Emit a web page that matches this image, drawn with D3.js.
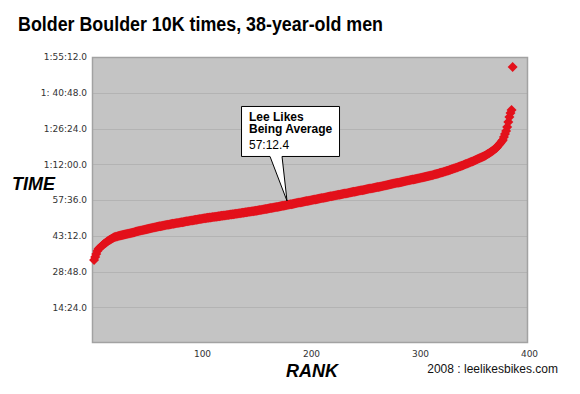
<!DOCTYPE html>
<html>
<head>
<meta charset="utf-8">
<script src="https://cdn.jsdelivr.net/npm/d3@7"></script>
<style>
  body { margin: 0; background: #fff; }
  svg { display: block; }
</style>
</head>
<body>
<div id="chart"></div>
<script>
// finish times in seconds, listed in rank order (rank = index + 1)
const finishTimes = [
  2006, 2078, 2151, 2223, 2272, 2296, 2320, 2345, 2369, 2393,
  2412, 2431, 2450, 2470, 2489, 2504, 2518, 2533, 2547, 2562,
  2569, 2576, 2583, 2590, 2596, 2603, 2610, 2616, 2622, 2628,
  2634, 2640, 2646, 2652, 2658, 2665, 2672, 2679, 2686, 2693,
  2700, 2707, 2713, 2719, 2725, 2731, 2737, 2743, 2749, 2755,
  2761, 2767, 2773, 2779, 2785, 2791, 2797, 2803, 2808, 2814,
  2819, 2824, 2830, 2835, 2840, 2845, 2850, 2855, 2860, 2866,
  2871, 2876, 2881, 2885, 2890, 2894, 2899, 2903, 2908, 2912,
  2917, 2921, 2926, 2930, 2935, 2940, 2944, 2949, 2953, 2958,
  2962, 2967, 2971, 2976, 2980, 2985, 2989, 2994, 2998, 3003,
  3007, 3012, 3016, 3021, 3025, 3028, 3032, 3036, 3040, 3043,
  3047, 3051, 3054, 3058, 3062, 3066, 3069, 3073, 3077, 3081,
  3084, 3088, 3092, 3096, 3099, 3103, 3107, 3111, 3114, 3118,
  3122, 3126, 3130, 3134, 3138, 3142, 3146, 3150, 3154, 3158,
  3162, 3166, 3170, 3174, 3178, 3182, 3186, 3190, 3194, 3198,
  3203, 3208, 3212, 3217, 3222, 3227, 3232, 3236, 3241, 3246,
  3251, 3256, 3260, 3265, 3270, 3275, 3280, 3284, 3289, 3294,
  3299, 3304, 3310, 3315, 3320, 3325, 3330, 3336, 3341, 3346,
  3351, 3356, 3362, 3367, 3372, 3377, 3382, 3388, 3393, 3398,
  3403, 3408, 3414, 3419, 3424, 3429, 3434, 3440, 3445, 3450,
  3455, 3460, 3466, 3471, 3476, 3481, 3486, 3492, 3497, 3502,
  3507, 3512, 3518, 3523, 3528, 3533, 3538, 3544, 3549, 3554,
  3559, 3564, 3570, 3575, 3580, 3585, 3590, 3596, 3601, 3606,
  3611, 3616, 3622, 3627, 3632, 3637, 3642, 3648, 3653, 3658,
  3663, 3668, 3674, 3679, 3684, 3689, 3694, 3700, 3705, 3710,
  3715, 3720, 3726, 3731, 3736, 3741, 3746, 3752, 3757, 3762,
  3768, 3773, 3779, 3785, 3790, 3796, 3802, 3807, 3813, 3819,
  3824, 3830, 3836, 3841, 3847, 3853, 3858, 3864, 3870, 3875,
  3881, 3887, 3892, 3898, 3904, 3909, 3915, 3921, 3926, 3932,
  3938, 3943, 3949, 3954, 3960, 3966, 3971, 3977, 3983, 3988,
  3994, 4000, 4006, 4012, 4018, 4024, 4030, 4036, 4042, 4048,
  4055, 4063, 4070, 4077, 4085, 4092, 4099, 4106, 4114, 4121,
  4129, 4138, 4146, 4155, 4163, 4171, 4180, 4188, 4197, 4205,
  4215, 4224, 4234, 4244, 4254, 4263, 4273, 4283, 4292, 4302,
  4313, 4324, 4335, 4346, 4356, 4367, 4378, 4389, 4400, 4411,
  4423, 4435, 4447, 4459, 4471, 4483, 4496, 4508, 4520, 4532,
  4549, 4566, 4582, 4599, 4616, 4635, 4655, 4674, 4694, 4713,
  4745, 4777, 4809, 4841, 4874, 4906, 4979, 5051, 5124, 5220,
  5341, 5462, 5559, 5631, 6670
];

const rankTicks = [100, 200, 300, 400];
const timeTicks = [864, 1728, 2592, 3456, 4320, 5184, 6048, 6912];
const timeTickLabels = ["14:24.0", "28:48.0", "43:12.0", "57:36.0",
  "1:12:00.0", "1:26:24.0", "1: 40:48.0", "1:55:12.0"];

const leeRank = 178;
const leeTime = 3432.4;
const leeLines = ["Lee Likes", "Being Average"];
const leeTimeLabel = "57:12.4";

const width = 580, height = 394;
const plot = { left: 92, right: 528, top: 57, bottom: 343 };

const svg = d3.select("#chart")
  .append("svg")
  .attr("width", width)
  .attr("height", height);

const x = d3.scaleLinear().domain([0, 400]).range([plot.left + 1, plot.right + 1]);
const y = d3.scaleLinear().domain([0, 6912]).range([plot.bottom, plot.top]);

svg.append("text")
  .attr("x", 18)
  .attr("y", 31)
  .attr("font-family", "'Liberation Sans', Arial, sans-serif")
  .attr("font-weight", "bold")
  .attr("font-size", 19.5)
  .attr("textLength", 365)
  .attr("lengthAdjust", "spacingAndGlyphs")
  .attr("fill", "#000")
  .text("Bolder Boulder 10K times, 38-year-old men");

// plot background
svg.append("rect")
  .attr("x", plot.left)
  .attr("y", plot.top)
  .attr("width", plot.right - plot.left)
  .attr("height", plot.bottom - plot.top)
  .attr("fill", "#c4c4c4");

svg.append("g")
  .selectAll("line")
  .data(timeTicks.slice(0, -1))
  .enter()
  .append("line")
  .attr("x1", plot.left)
  .attr("x2", plot.right)
  .attr("y1", d => Math.round(y(d)) + 0.5)
  .attr("y2", d => Math.round(y(d)) + 0.5)
  .attr("stroke", "#b3b3b3")
  .attr("stroke-width", 1);

svg.append("rect")
  .attr("x", plot.left + 0.5)
  .attr("y", plot.top + 0.5)
  .attr("width", plot.right - plot.left - 1)
  .attr("height", plot.bottom - plot.top - 1)
  .attr("fill", "none")
  .attr("stroke", "#a2a2a2")
  .attr("stroke-width", 1.5);

// axes as text only, no tick marks
const yAxis = d3.axisLeft(y)
  .tickValues(timeTicks)
  .tickFormat((d, i) => timeTickLabels[i])
  .tickSize(0)
  .tickPadding(5);

svg.append("g")
  .attr("transform", `translate(${plot.left},0)`)
  .call(yAxis)
  .call(g => g.select(".domain").remove())
  .selectAll("text")
  .attr("font-family", "'DejaVu Sans', Verdana, sans-serif")
  .attr("font-size", 9)
  .attr("fill", "#333");

const xAxis = d3.axisBottom(x)
  .tickValues(rankTicks)
  .tickSize(0)
  .tickPadding(8);

svg.append("g")
  .attr("transform", `translate(0,${plot.bottom})`)
  .call(xAxis)
  .call(g => g.select(".domain").remove())
  .selectAll("text")
  .attr("font-family", "'DejaVu Sans', Verdana, sans-serif")
  .attr("font-size", 9)
  .attr("fill", "#333");

// runners
const diamond = d3.symbol().type(d3.symbolSquare).size(50);

svg.append("g")
  .selectAll("path")
  .data(finishTimes)
  .enter()
  .append("path")
  .attr("d", diamond)
  .attr("transform", (d, i) => `translate(${x(i + 1)},${y(d)}) rotate(45)`)
  .attr("fill", "#e3111b");

// axis titles
svg.append("text")
  .attr("x", 12)
  .attr("y", 190)
  .attr("font-family", "'Liberation Sans', Arial, sans-serif")
  .attr("font-weight", "bold")
  .attr("font-style", "italic")
  .attr("font-size", 18)
  .text("TIME");

svg.append("text")
  .attr("x", 312)
  .attr("y", 377)
  .attr("text-anchor", "middle")
  .attr("font-family", "'Liberation Sans', Arial, sans-serif")
  .attr("font-weight", "bold")
  .attr("font-style", "italic")
  .attr("font-size", 18)
  .text("RANK");

svg.append("text")
  .attr("x", 558)
  .attr("y", 373)
  .attr("text-anchor", "end")
  .attr("font-family", "'Liberation Sans', Arial, sans-serif")
  .attr("font-size", 12)
  .attr("fill", "#111")
  .text("2008 : leelikesbikes.com");

// callout for Lee
const tipX = x(leeRank), tipY = y(leeTime);
const box = { x: tipX - 45.5, y: tipY - 94.5, w: 98, h: 50 };
const callout = svg.append("g");

callout.append("path")
  .attr("d", [
    `M${box.x},${box.y}`,
    `H${box.x + box.w}`,
    `V${box.y + box.h}`,
    `H${tipX - 5}`,
    `L${tipX},${tipY}`,
    `L${tipX - 17},${box.y + box.h}`,
    `H${box.x}`,
    "Z"
  ].join(""))
  .attr("fill", "#fff")
  .attr("stroke", "#000")
  .attr("stroke-width", 1);

callout.selectAll("text.name")
  .data(leeLines)
  .enter()
  .append("text")
  .attr("class", "name")
  .attr("x", box.x + 7.5)
  .attr("y", (d, i) => box.y + 14.5 + i * 12.5)
  .attr("font-family", "'Liberation Sans', Arial, sans-serif")
  .attr("font-weight", "bold")
  .attr("font-size", 12)
  .text(d => d);

callout.append("text")
  .attr("x", box.x + 7.5)
  .attr("y", box.y + 42.5)
  .attr("font-family", "'Liberation Sans', Arial, sans-serif")
  .attr("font-size", 12)
  .text(leeTimeLabel);
</script>
</body>
</html>
